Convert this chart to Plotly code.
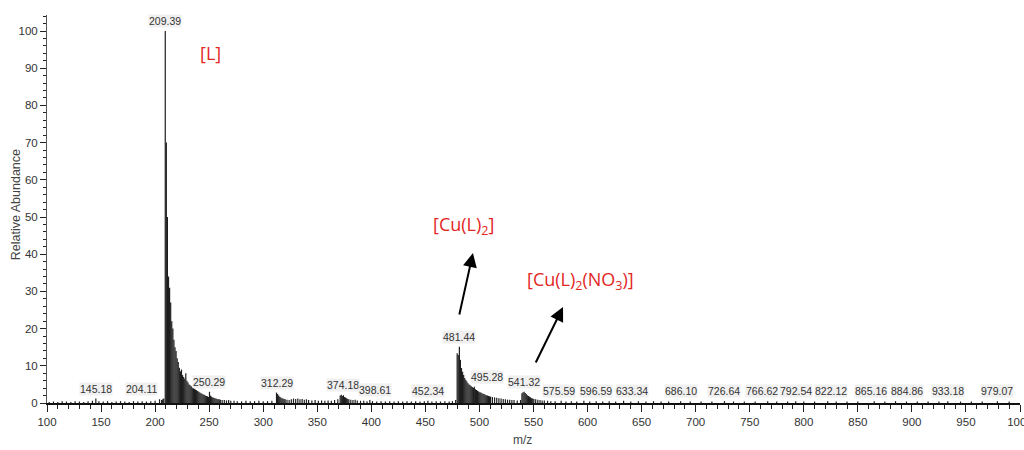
import plotly.graph_objects as go

# ---- data ----
mz = [102, 106, 110, 114, 118, 122, 126, 130, 134, 138, 142, 145.18, 148, 152, 156, 160, 164, 168, 172, 176,
      180, 184, 188, 192, 196, 200, 204.11, 206, 207, 208,
      209.39, 210.39, 211.39, 212.4, 213.4, 214.4, 215.4, 216.4, 217.4, 218.4, 219.4, 220.4, 221.4, 222.4,
      223.4, 224.4, 225.4, 226.4, 227.4, 228.4, 229.4, 230.4, 231.4, 232.4, 233.4, 234.4, 235.4, 236.4,
      237.4, 238.4, 239.4, 240.4, 241.4, 242.4, 243.4, 244.4, 245.4, 246.4, 247.4, 248.4, 249.4, 250.29,
      251.3, 252.3, 253.3, 254.3, 255.3, 256.3, 257.3, 258.3, 259.3, 260.3, 262, 264, 266, 268, 270, 273,
      276, 280, 284, 288, 292, 296, 300, 304, 308,
      312.29, 313.3, 314.3, 315.3, 316.3, 317.3, 318.3, 319.3, 320.3, 322, 324, 326, 328, 330, 332, 334,
      336, 338, 340, 342, 345, 348, 351, 354, 357, 360, 363, 366, 369,
      371.2, 372.2, 373.2, 374.18, 375.2, 376.2, 377.2, 378.2, 379.2, 381, 383, 385, 387, 390, 393, 396,
      398.61, 401, 405, 409, 413, 417, 421, 425, 429, 433, 437, 441, 445, 449, 452.34, 456, 460, 464, 468,
      472, 475, 478,
      479.4, 480.4, 481.44, 482.4, 483.4, 484.4, 485.4, 486.4, 487.4, 488.4, 489.4, 490.4, 491.4, 492.4,
      493.4, 494.4, 495.28, 496.3, 497.3, 498.3, 499.3, 500.3, 501.3, 502.3, 503.3, 504.3, 505.3, 506.3,
      507.3, 508.3, 509.3, 510.3, 512, 514, 516, 518, 520, 522, 524, 526, 528, 530, 532, 535, 538,
      539.3, 540.3, 541.32, 542.3, 543.3, 544.3, 545.3, 546.3, 547.3, 548.3, 549.3, 550.3, 552, 554, 556,
      558, 560, 563, 566, 570, 575.59, 580, 585, 590, 596.59, 602, 608, 614, 620, 626, 633.34, 640, 647,
      654, 661, 668, 675, 686.10, 695, 705, 715, 726.64, 735, 745, 755, 766.62, 775, 785, 792.54, 800, 810,
      822.12, 830, 840, 850, 865.16, 875, 884.86, 895, 905, 915, 925, 933.18, 945, 955, 965, 979.07, 990]

abundance = [0.3, 0.4, 0.3, 0.5, 0.4, 0.3, 0.5, 0.4, 0.3, 0.5, 0.6, 1.2, 0.5, 0.4, 0.5, 0.3, 0.4, 0.5, 0.4, 0.3,
             0.5, 0.4, 0.5, 0.4, 0.5, 0.6, 1.0, 0.8, 1.0, 1.2,
             100, 70, 50, 34, 31, 27, 22, 20, 17, 15, 14, 12, 11, 9.5,
             8.5, 9, 7.5, 7, 6.5, 8, 6, 5.5, 5, 4.8, 4.5, 4.2, 4, 3.8,
             3.6, 3.4, 3.2, 3, 2.8, 2.6, 2.5, 2.3, 2.2, 2, 1.9, 1.8, 1.6, 3.0,
             2.0, 1.7, 1.5, 1.4, 1.3, 1.2, 1.1, 1.0, 1.0, 0.9, 0.8, 0.8, 0.7, 0.8, 0.6, 0.6,
             0.5, 0.5, 0.6, 0.5, 0.5, 0.6, 0.5, 0.5, 0.6,
             2.8, 2.4, 2.0, 1.7, 1.5, 1.3, 1.2, 1.1, 1.0, 0.9, 0.8, 1.0, 1.2, 1.1, 1.2, 1.0,
             1.1, 0.9, 1.0, 0.8, 0.7, 0.8, 0.6, 0.7, 0.6, 0.7, 0.6, 0.8, 1.0,
             2.0, 2.2, 1.9, 2.1, 1.6, 1.5, 1.3, 1.1, 1.0, 0.9, 0.8, 0.9, 0.7, 0.6, 0.6, 0.5,
             0.8, 0.5, 0.4, 0.5, 0.4, 0.5, 0.4, 0.5, 0.4, 0.5, 0.4, 0.5, 0.4, 0.5, 0.6, 0.4, 0.5, 0.4, 0.5,
             0.4, 0.5, 0.8,
             13.4, 12.9, 15.1, 11.6, 9.4, 8.4, 7.5, 6.7, 6.2, 5.8, 5.3, 5.0, 4.8, 4.5,
             4.3, 4.0, 4.4, 3.7, 3.5, 3.3, 3.1, 2.9, 2.8, 2.6, 2.5, 2.4, 2.2, 2.1,
             2.0, 1.9, 1.8, 1.7, 1.6, 1.5, 1.4, 1.3, 1.2, 1.1, 1.0, 0.9, 0.9, 0.8, 0.8, 0.7, 0.8,
             2.6, 2.9, 3.0, 2.7, 2.4, 2.1, 1.9, 1.7, 1.5, 1.3, 1.2, 1.1, 1.0, 0.9, 0.8,
             0.7, 0.7, 0.6, 0.5, 0.5, 0.6, 0.4, 0.5, 0.4, 0.6, 0.4, 0.5, 0.4, 0.5, 0.4, 0.6, 0.4, 0.5,
             0.4, 0.5, 0.4, 0.4, 0.5, 0.4, 0.4, 0.4, 0.5, 0.4, 0.4, 0.4, 0.5, 0.4, 0.4, 0.5, 0.4, 0.4,
             0.5, 0.4, 0.4, 0.4, 0.5, 0.4, 0.5, 0.4, 0.4, 0.4, 0.4, 0.5, 0.4, 0.4, 0.4, 0.5, 0.4]

peak_labels = [145.18, 204.11, 209.39, 250.29, 312.29, 374.18, 398.61, 452.34, 481.44, 495.28, 541.32,
               575.59, 596.59, 633.34, 686.10, 726.64, 766.62, 792.54, 822.12, 865.16, 884.86, 933.18, 979.07]
# horizontal nudges (pixels) the instrument software applied to crowded labels
label_nudge = {204.11: -18, 398.61: 5, 495.28: 13, 575.59: -2, 596.59: 12, 633.34: 8, 766.62: -6,
               822.12: 3, 865.16: -3, 884.86: 11}

x_ticks = list(range(100, 1001, 50))
y_ticks = list(range(0, 101, 10))

species = ["[L]", "[Cu(L)<sub>2</sub>]", "[Cu(L)<sub>2</sub>(NO<sub>3</sub>)]"]

# ---- build stick spectrum ----
sx, sy = [], []
for m, a in zip(mz, abundance):
    sx += [m, m, None]
    sy += [0, a, None]

fig = go.Figure()
fig.add_trace(go.Scatter(x=sx, y=sy, mode="lines",
                         line=dict(color="#1e1e1e", width=1.2),
                         hoverinfo="skip", showlegend=False))

lookup = dict(zip(mz, abundance))
label_font = dict(family="Liberation Sans Narrow, Liberation Sans, Arial", size=10.5, color="#333333")
for p in peak_labels:
    fig.add_annotation(x=p, y=lookup.get(p, 0.5), xref="x", yref="y", text=f"{p:.2f}",
                       showarrow=False, yanchor="bottom", yshift=3, xshift=label_nudge.get(p, 0),
                       font=label_font, bgcolor="rgba(234,234,234,0.7)", borderpad=0)

red = "#e3261f"
red_font = dict(family="Open Sans, Noto Sans, Arial", size=18, color=red)
fig.add_annotation(x=250.8, y=94.1, text=species[0], showarrow=False, font=red_font)
fig.add_annotation(x=484.8, y=47.6, text=species[1], showarrow=False, font=red_font)
fig.add_annotation(x=593.9, y=32.8, text=species[2], showarrow=False, font=red_font)

for (tx, ty, hx, hy) in [(481.1, 23.4, 494.0, 40.3), (551.4, 10.5, 577.3, 25.8)]:
    fig.add_annotation(x=hx, y=hy, ax=tx, ay=ty, xref="x", yref="y", axref="x", ayref="y",
                       text="", showarrow=True, arrowhead=2, arrowsize=1.4, arrowwidth=2,
                       arrowcolor="black")

tick_font = dict(family="Liberation Sans Narrow, Liberation Sans, Arial", size=11.5, color="#333333")
fig.update_xaxes(range=[100, 1000], tickvals=x_ticks, ticks="outside", ticklen=7, tickwidth=1,
                 tickcolor="#222", showline=True, linecolor="#111", linewidth=2, showgrid=False,
                 zeroline=False, tickfont=tick_font, ticklabeloverflow="allow", automargin=False,
                 minor=dict(dtick=10, ticks="outside", ticklen=4, tickcolor="#222", showgrid=False))
fig.update_yaxes(range=[0, 104.3], tickvals=y_ticks, ticks="outside", ticklen=6, tickwidth=1,
                 tickcolor="#222", showline=True, linecolor="#555", linewidth=1, showgrid=False,
                 zeroline=False, tickfont=tick_font, automargin=False,
                 minor=dict(dtick=2, ticks="outside", ticklen=3, tickcolor="#222", showgrid=False))

fig.add_annotation(xref="paper", yref="paper", x=-0.0318, y=0.51, xanchor="center", yanchor="middle",
                   text="Relative Abundance", textangle=-90, showarrow=False,
                   font=dict(family="Liberation Sans, Arial", size=12.5, color="#444"))
fig.add_annotation(xref="paper", yref="paper", x=0.489, y=-0.095, xanchor="center", yanchor="middle",
                   text="m/z", showarrow=False,
                   font=dict(family="Liberation Sans, Arial", size=12, color="#444"))

fig.update_layout(width=1024, height=450, autosize=False,
                  margin=dict(l=47, r=4, t=15, b=47, autoexpand=False),
                  paper_bgcolor="white", plot_bgcolor="white")

fig.write_html("out.html")
